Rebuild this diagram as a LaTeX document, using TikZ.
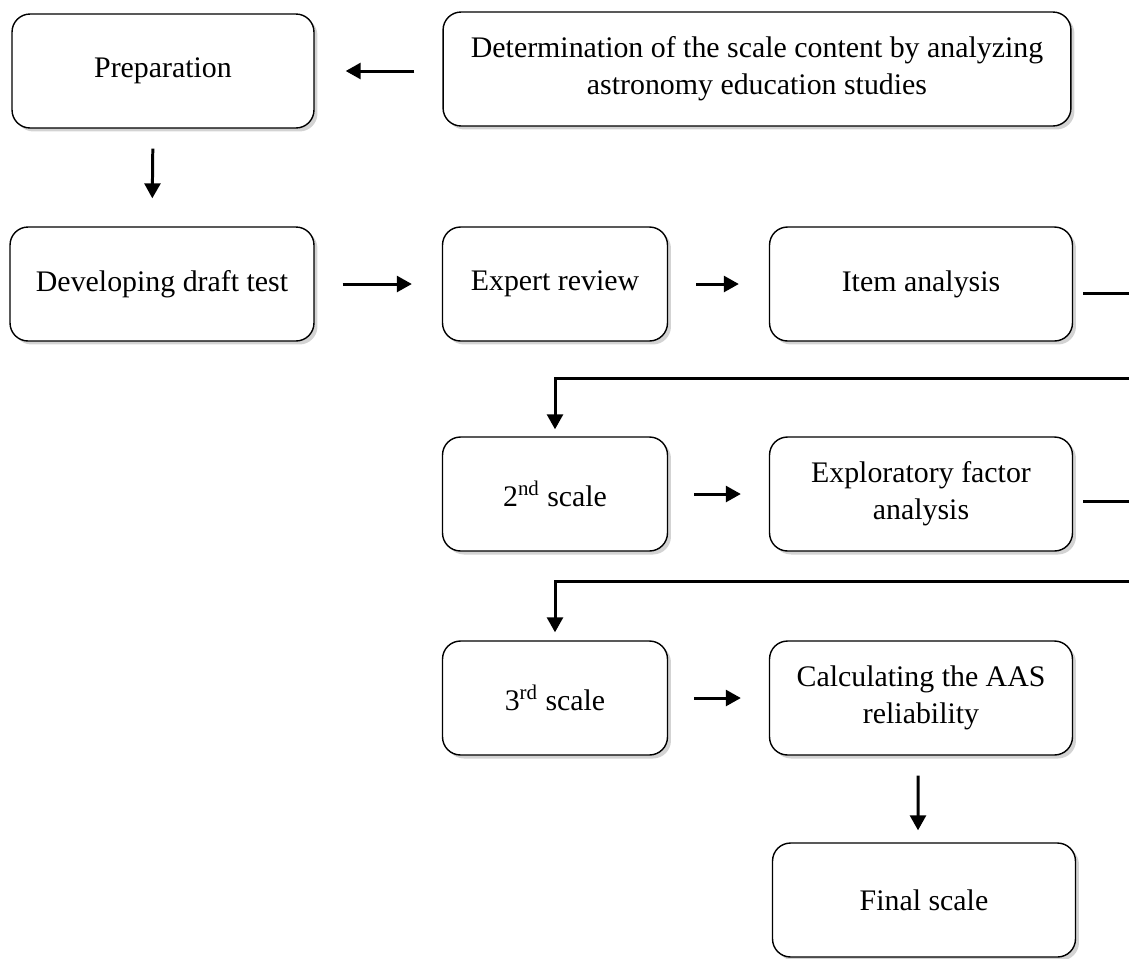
\documentclass[tikz,border=0pt]{standalone}
\usepackage{fontspec}
\setmainfont{Liberation Serif}
\usetikzlibrary{arrows.meta,shadows}
\tikzset{
  stage/.style={draw, rounded corners=0.36cm, line width=0.8pt, fill=white,
    minimum height=2.28cm, align=center, inner sep=2pt,
    drop shadow={opacity=0.35, shadow xshift=0.07cm, shadow yshift=-0.07cm},
    font=\fontsize{17}{21}\selectfont},
  flow/.style={line width=1.7pt, -{Triangle[length=8.5pt,width=9pt]}},
  rail/.style={line width=1.7pt}
}
\begin{document}
\begin{tikzpicture}[x=0.02cm, y=-0.02cm]
      \useasboundingbox (0,0) rectangle (1129,958);
      \node (prep) [stage, minimum width=6.04cm] at (163,71) {Preparation};
      \node (det) [stage, minimum width=12.56cm] at (757,69)
            {Determination of the scale content by analyzing\\astronomy education studies};
      \node (draft) [stage, minimum width=6.08cm] at (162,284) {Developing draft test};
      \node (expert) [stage, minimum width=4.5cm] at (555,284) {Expert review};
      \node (item) [stage, minimum width=6.06cm] at (921,284) {Item analysis};
      \node (scale2) [stage, minimum width=4.5cm] at (555,494) {2\textsuperscript{nd} scale};
      \node (efa) [stage, minimum width=6.06cm] at (921,494) {Exploratory factor\\analysis};
      \node (scale3) [stage, minimum width=4.5cm] at (555,698) {3\textsuperscript{rd} scale};
      \node (rel) [stage, minimum width=6.06cm] at (921,698) {Calculating the AAS\\reliability};
      \node (final) [stage, minimum width=6.06cm] at (924,900) {Final scale};
      \coordinate (itemout) at (1129,293);
      \coordinate (itemin) at (1129,378);
      \coordinate (efaout) at (1129,501);
      \coordinate (efain) at (1129,581);
      % arrows between the stages
      \draw[flow, shorten <=0.56cm, shorten >=0.62cm] (det.west |- prep.east) -- (prep.east);
      \draw[flow, shorten <=0.4cm, shorten >=0.56cm] ([xshift=-0.2cm]prep.south) -- ([xshift=-0.2cm]draft.north);
      \draw[flow, shorten <=0.56cm, shorten >=0.6cm] (draft) -- (expert);
      \draw[flow, shorten <=0.56cm, shorten >=0.6cm] (expert) -- (item);
      \draw[flow, shorten <=0.52cm, shorten >=0.56cm] (scale2) -- (efa);
      \draw[flow, shorten <=0.52cm, shorten >=0.56cm] (scale3) -- (rel);
      \draw[flow, shorten <=0.4cm, shorten >=0.24cm] ([xshift=-0.06cm]rel.south) -- ([xshift=-0.12cm]final.north);
      % lines running off the right edge
      \draw[rail, shorten <=0.2cm] (item.east |- itemout) -- (itemout);
      \draw[rail, shorten <=0.2cm] (efa.east |- efaout) -- (efaout);
      \draw[flow, shorten >=0.14cm] (itemin) -| (scale2.north);
      \draw[flow, shorten >=0.16cm] (efain) -| (scale3.north);
\end{tikzpicture}
\end{document}
